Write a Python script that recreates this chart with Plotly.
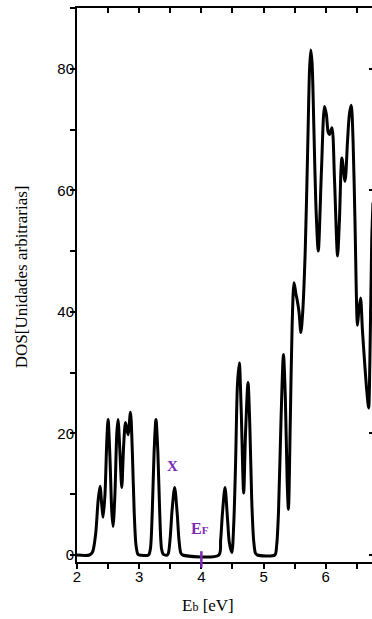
import plotly.graph_objects as go

# Energy (eV) and DOS (arbitrary units)
energy = [2.00, 2.20, 2.25, 2.30, 2.34, 2.37, 2.40, 2.42, 2.45, 2.48, 2.50, 2.53, 2.56, 2.58,
          2.61, 2.64, 2.66, 2.69, 2.72, 2.75, 2.78, 2.82, 2.86, 2.89, 2.92, 2.95, 2.98, 3.00,
          3.15, 3.18, 3.21, 3.24, 3.27, 3.30, 3.33, 3.36, 3.39, 3.45,
          3.47, 3.50, 3.53, 3.57, 3.61, 3.64, 3.67, 3.70,
          4.28, 4.31, 4.34, 4.38, 4.42, 4.45, 4.49, 4.52, 4.55, 4.58, 4.61, 4.64, 4.68,
          4.71, 4.75, 4.78, 4.81, 4.84, 4.87, 4.90,
          5.18, 5.21, 5.24, 5.28, 5.32, 5.35, 5.38, 5.40, 5.43, 5.46, 5.49, 5.52, 5.54,
          5.57, 5.60, 5.63, 5.67, 5.71, 5.74, 5.76, 5.78, 5.81, 5.84, 5.88, 5.93, 5.98,
          6.01, 6.04, 6.06, 6.10, 6.14, 6.19, 6.22, 6.26, 6.31, 6.35, 6.38, 6.41, 6.44,
          6.47, 6.51, 6.53, 6.56, 6.59, 6.63, 6.66, 6.69, 6.71, 6.74, 6.76]
dos = [0, 0, 0.5, 3.5, 9, 11.3, 8, 6.2, 10, 19, 22.3, 16, 7, 4.7,
       10, 20, 22.3, 17, 11.1, 18, 21.8, 19.8, 23.5, 17, 7, 1.5, 0.1, 0,
       0, 1, 7, 17, 22.3, 17, 7, 1, 0.1, 0,
       0.3, 3, 7.5, 11.1, 7, 2.5, 0.3, 0,
       0, 2.5, 7, 11.1, 6, 2, 0.4, 5, 15, 28, 31.6, 24, 10.2,
       20, 28.4, 21, 9, 2.5, 0.3, 0,
       0, 1.5, 7, 22, 33.0, 26, 12, 7.5, 22, 38, 44.8, 43, 42,
       40, 36.6, 40, 50, 67, 80, 83.1, 81, 70, 58, 50.0, 63, 73.8,
       72.5, 69.5, 69.2, 70.3, 62, 49.2, 55, 65.3, 61.5, 68, 72.5, 74.0, 68,
       55, 37.8, 40, 42.3, 37, 31, 27, 24.2, 32, 52, 58]

x_range = [2, 6.76]
y_range = [-1.15, 90]
x_ticks = [2, 3, 4, 5, 6]
y_ticks = [0, 20, 40, 60, 80]
E_F = 4.0
labels = {"x": "E<span style='font-size:12px'>b</span> [eV]",
          "y": "DOS[Unidades arbitrarias]"}

purple = "#7B2AB8"
serif = "Liberation Serif, Times New Roman, serif"
sans = "Liberation Sans, Arial, sans-serif"

fig = go.Figure()
fig.add_trace(go.Scatter(x=energy, y=dos, mode="lines",
                         line=dict(color="black", width=3, shape="spline", smoothing=0.8),
                         hoverinfo="skip", showlegend=False))
# invisible copy to anchor the mirror axes
fig.add_trace(go.Scatter(x=energy, y=dos, mode="lines", xaxis="x2", yaxis="y2",
                         line=dict(color="rgba(0,0,0,0)", width=0),
                         hoverinfo="skip", showlegend=False))

axis_common = dict(showgrid=False, zeroline=False, linecolor="black", linewidth=2,
                   tickcolor="black", tickwidth=1.5)

# plot area at x 77..373, y 8..562 (right edge just beyond the window)
fig.update_layout(
    width=373, height=619,
    margin=dict(l=77, r=0, t=8, b=57),
    paper_bgcolor="white", plot_bgcolor="white",
    showlegend=False,
    xaxis=dict(range=x_range, tickvals=x_ticks, ticks="outside", ticklen=5,
               showline=True, tickfont=dict(family=sans, size=15, color="black"),
               ticklabelstandoff=-5,
               minor=dict(dtick=0.5, tick0=2, ticks="outside", ticklen=5,
                          tickcolor="black", tickwidth=1.5),
               **axis_common),
    yaxis=dict(range=y_range, tickvals=y_ticks, ticks="outside", ticklen=5,
               showline=True, tickfont=dict(family=sans, size=15, color="black"),
               ticklabelstandoff=-7,
               minor=dict(dtick=10, tick0=0, ticks="outside", ticklen=5,
                          tickcolor="black", tickwidth=1.5),
               **axis_common),
    xaxis2=dict(range=x_range, overlaying="x", side="top", anchor="y2",
                dtick=0.5, tick0=2, ticks="inside", ticklen=5,
                showline=True, showticklabels=False, **axis_common),
    yaxis2=dict(range=y_range, overlaying="y", side="right", anchor="x2",
                tickvals=y_ticks, ticks="inside", ticklen=4,
                showline=False, showticklabels=False,
                showgrid=False, zeroline=False, tickcolor="black", tickwidth=1.5),
)

fig.add_annotation(text=labels["y"], xref="paper", yref="paper",
                   x=(21.7 - 77) / 296, y=(562 - 276.5) / 554, textangle=-90,
                   showarrow=False, xanchor="center", yanchor="middle",
                   font=dict(family=serif, size=17, color="black"))
fig.add_annotation(text=labels["x"], xref="paper", yref="paper",
                   x=(207.5 - 77) / 296, y=(562 - 605.7) / 554,
                   showarrow=False, xanchor="center", yanchor="middle",
                   font=dict(family=serif, size=17, color="black"))
fig.add_annotation(text="<b>X</b>", x=3.54, y=14.7, showarrow=False,
                   xanchor="center", yanchor="middle",
                   font=dict(family=serif, size=15, color=purple))
fig.add_annotation(text="<b>E<span style='font-size:11px'>F</span></b>", x=3.97, y=4.4,
                   showarrow=False, xanchor="center", yanchor="middle",
                   font=dict(family=serif, size=16, color=purple))
fig.add_shape(type="line", xref="x", yref="paper", x0=E_F, x1=E_F,
              y0=-0.0099, y1=0.0195, line=dict(color=purple, width=2.5))

fig.write_html("out.html",
               config={"displayModeBar": False},
               post_script="document.body.style.margin='0';"
                           "document.body.style.overflow='hidden';")
